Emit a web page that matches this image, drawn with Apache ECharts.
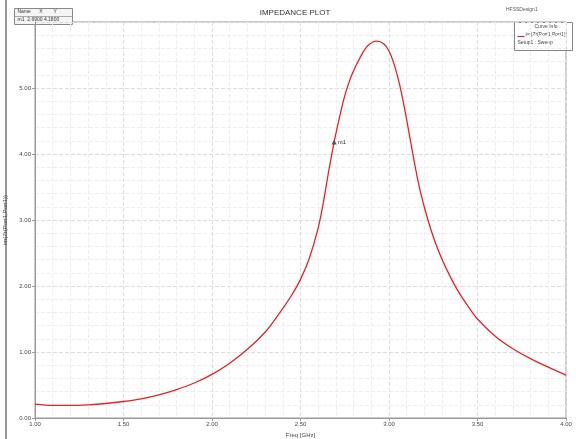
<!DOCTYPE html>
<html><head><meta charset="utf-8">
<script src="https://cdn.jsdelivr.net/npm/echarts@6/dist/echarts.min.js"></script>
<style>html,body{margin:0;padding:0;background:#fff}#c{width:576px;height:439px}</style>
</head><body><div id="c"></div>
<script>
const freq = [1.00,1.10,1.20,1.30,1.40,1.50,1.60,1.70,1.80,1.90,2.00,2.10,2.20,2.30,2.35,2.40,2.45,2.50,2.55,2.60,2.63,2.66,2.69,2.72,2.75,2.79,2.84,2.88,2.93,2.97,3.00,3.03,3.06,3.09,3.12,3.15,3.18,3.22,3.26,3.30,3.35,3.40,3.45,3.50,3.60,3.70,3.80,3.90,4.00];
const imZ  = [0.21,0.19,0.19,0.20,0.22,0.25,0.29,0.35,0.43,0.53,0.66,0.83,1.04,1.30,1.47,1.66,1.86,2.10,2.42,2.88,3.28,3.75,4.18,4.55,4.88,5.20,5.48,5.64,5.71,5.67,5.56,5.35,5.05,4.66,4.22,3.78,3.40,3.00,2.67,2.40,2.12,1.88,1.68,1.50,1.24,1.05,0.90,0.77,0.65];
const xTicks = ['1.00','1.50','2.00','2.50','3.00','3.50','4.00'];
const yTicks = ['0.00','1.00','2.00','3.00','4.00','5.00'];
const marker = {name:'m1', x:2.690, y:4.180};

const chart = echarts.init(document.getElementById('c'));
const pts = freq.map((f,i)=>[f,imZ[i]]);
chart.setOption({
  animation:false,
  title:{text:'IMPEDANCE PLOT',left:290,top:4,textAlign:'center',textStyle:{fontSize:8,fontWeight:'normal',color:'#333',fontFamily:'Arial'}},
  grid:{left:35,right:10,top:22,bottom:21,show:true,borderColor:'#999',borderWidth:1,containLabel:false,outerBoundsMode:'none'},
  xAxis:{type:'value',min:1,max:4,interval:0.5,name:'Freq [GHz]',nameLocation:'middle',nameGap:13,
    nameTextStyle:{fontSize:6,color:'#444'},
    axisLine:{lineStyle:{color:'#999'}},axisTick:{show:true,length:3,lineStyle:{color:'#999'}},
    axisLabel:{fontSize:6,color:'#444',margin:3,formatter:v=>v.toFixed(2)},
    splitLine:{show:true,lineStyle:{color:'#ddd',type:'dashed',width:1}},
    minorSplitLine:{show:true,lineStyle:{color:'#eee',type:'dashed',width:1}}},
  yAxis:{type:'value',min:0,max:6,interval:1,name:'im(Zt(Port1,Port1))',nameLocation:'middle',nameGap:20,
    nameTextStyle:{fontSize:6,color:'#444'},
    axisLine:{show:true,lineStyle:{color:'#999'}},axisTick:{show:true,length:3,lineStyle:{color:'#999'}},
    axisLabel:{fontSize:6,color:'#444',margin:4,showMaxLabel:false,formatter:v=>v.toFixed(2)},
    splitLine:{show:true,lineStyle:{color:'#ddd',type:'dashed',width:1}},
    minorSplitLine:{show:true,lineStyle:{color:'#eee',type:'dashed',width:1}}},
  series:[{type:'line',data:pts,smooth:0.3,showSymbol:false,lineStyle:{color:'#e8202a',width:1.3},
    markPoint:{symbol:'triangle',symbolSize:5,itemStyle:{color:'#555'},
      label:{show:true,position:'right',formatter:'m1',fontSize:6,color:'#333',distance:1},
      data:[{coord:[marker.x,marker.y]}]}}],
  graphic:[
    {type:'line',shape:{x1:6,y1:0,x2:6,y2:439},style:{stroke:'#777',lineWidth:1.5}},
    {type:'group',left:12,top:8,children:[
      {type:'rect',shape:{x:0,y:0,width:58,height:16},style:{fill:'#f4f4f4',stroke:'#888',lineWidth:1}},
      {type:'line',shape:{x1:0,y1:8,x2:58,y2:8},style:{stroke:'#aaa'}},
      {type:'text',style:{x:3,y:1,text:'Name      X        Y',fontSize:5,fill:'#333'}},
      {type:'text',style:{x:3,y:9,text:'m1  '+marker.x.toFixed(4)+' '+marker.y.toFixed(4),fontSize:5,fill:'#333'}}
    ]},
    {type:'text',left:506,top:7,style:{text:'HFSSDesign1',fontSize:5,fill:'#555'}},
    {type:'group',left:514,top:22,children:[
      {type:'rect',shape:{x:0,y:0,width:58,height:28},style:{fill:'#fff',stroke:'#888',lineWidth:1}},
      {type:'text',style:{x:20,y:2,text:'Curve Info',fontSize:5,fill:'#444'}},
      {type:'line',shape:{x1:3,y1:14,x2:10,y2:14},style:{stroke:'#e8202a',lineWidth:1}},
      {type:'text',style:{x:11,y:10,text:'im(Zt(Port1,Port1))',fontSize:5,fill:'#444'}},
      {type:'text',style:{x:3,y:18,text:'Setup1 : Sweep',fontSize:5,fill:'#444'}}
    ]}
  ]
});
</script></body></html>
